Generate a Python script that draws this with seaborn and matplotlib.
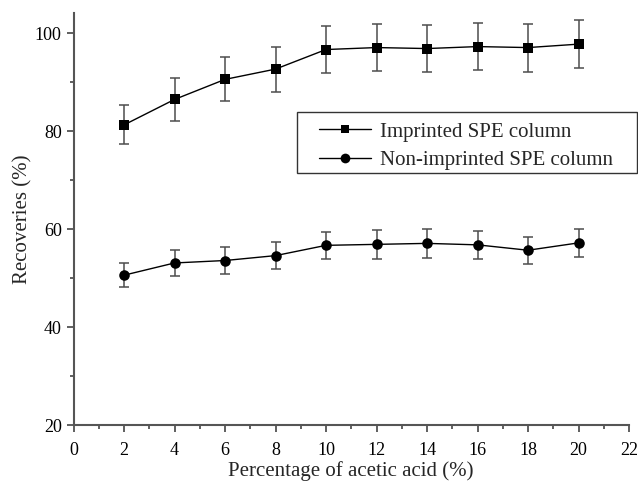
import matplotlib
matplotlib.use("Agg")
import matplotlib.pyplot as plt
import seaborn as sns
import pandas as pd
from matplotlib.ticker import MultipleLocator
from matplotlib.patches import Rectangle

acetic = [2, 4, 6, 8, 10, 12, 14, 16, 18, 20]
imprinted = [81.3, 86.5, 90.6, 92.7, 96.7, 97.1, 96.9, 97.3, 97.1, 97.8]
imprinted_err = [4.0, 4.3, 4.5, 4.6, 4.85, 4.85, 4.8, 4.8, 4.9, 4.9]
nonimprinted = [50.6, 53.1, 53.6, 54.6, 56.7, 56.9, 57.1, 56.8, 55.7, 57.2]
nonimprinted_err = [2.5, 2.65, 2.7, 2.75, 2.8, 2.9, 2.9, 2.85, 2.8, 2.85]
series_names = ["Imprinted SPE column", "Non-imprinted SPE column"]

df = pd.DataFrame({
    "x": acetic * 2,
    "y": imprinted + nonimprinted,
    "err": imprinted_err + nonimprinted_err,
    "series": [series_names[0]] * len(acetic) + [series_names[1]] * len(acetic),
})

sns.set_style("ticks")
plt.rcParams["font.family"] = ["Liberation Serif", "DejaVu Serif"]

W, H = 638, 483
fig = plt.figure(figsize=(W / 100, H / 100), dpi=100)
ax_l, ax_r, ax_b, ax_t = 73.5, 629, 425, 13.3
ax = fig.add_axes([ax_l / W, 1 - ax_b / H, (ax_r - ax_l) / W, (ax_b - ax_t) / H])

for name in series_names:
    sub = df[df["series"] == name]
    ax.errorbar(sub["x"], sub["y"], yerr=sub["err"], fmt="none",
                ecolor="#4d4d4d", elinewidth=1.1, capsize=3.3, capthick=1.1, zorder=2)

sns.lineplot(data=df, x="x", y="y", hue="series", style="series",
             markers={series_names[0]: "s", series_names[1]: "o"},
             dashes=False, palette={series_names[0]: "black", series_names[1]: "black"},
             linewidth=1.0, markeredgecolor="black", markeredgewidth=0,
             ax=ax, zorder=3, legend=True)
for line in ax.get_lines():
    if line.get_marker() == "s":
        line.set_markersize(6.8)
    elif line.get_marker() == "o":
        line.set_markersize(7.6)

ax.set_xlim(0, 22)
ax.set_ylim(20, 104.1)
ax.xaxis.set_major_locator(MultipleLocator(2))
ax.xaxis.set_minor_locator(MultipleLocator(1))
ax.yaxis.set_major_locator(MultipleLocator(20))
ax.yaxis.set_minor_locator(MultipleLocator(10))
ax.tick_params(which="major", direction="out", length=5, width=1.2, colors="#444444",
               labelcolor="black", labelsize=13)
ax.tick_params(axis="x", which="major", pad=7)
ax.tick_params(which="minor", direction="out", length=3, width=1.2, colors="#444444")
for s in ["top", "right"]:
    ax.spines[s].set_visible(False)
for s in ["left", "bottom"]:
    ax.spines[s].set_color("#555555")
    ax.spines[s].set_linewidth(1.5)

ax.set_xlabel("Percentage of acetic acid (%)", fontsize=15, labelpad=2)
ax.set_ylabel("Recoveries (%)", fontsize=15, labelpad=2)

hx0 = (319 - ax_l) / (ax_r - ax_l)
ty = (ax_b - 122) / (ax_b - ax_t)
leg = ax.legend(loc="upper left", bbox_to_anchor=(hx0, ty), frameon=False,
                fontsize=15, handlelength=2.5, handletextpad=0.45,
                borderpad=0, labelspacing=0.42, borderaxespad=0)
for h in leg.legend_handles:
    h.set_linewidth(1.0)
    if h.get_marker() == "s":
        h.set_markersize(5.5)
    else:
        h.set_markersize(7.0)

bx0, bx1, by0, by1 = 297, 637, 112, 173
ax.add_patch(Rectangle(((bx0 - ax_l) / (ax_r - ax_l), (ax_b - by1) / (ax_b - ax_t)),
                       (bx1 - bx0) / (ax_r - ax_l), (by1 - by0) / (ax_b - ax_t),
                       transform=ax.transAxes, fill=False, edgecolor="#333333",
                       linewidth=1.0, clip_on=False, zorder=5))

fig.savefig("out.png", dpi=100)
